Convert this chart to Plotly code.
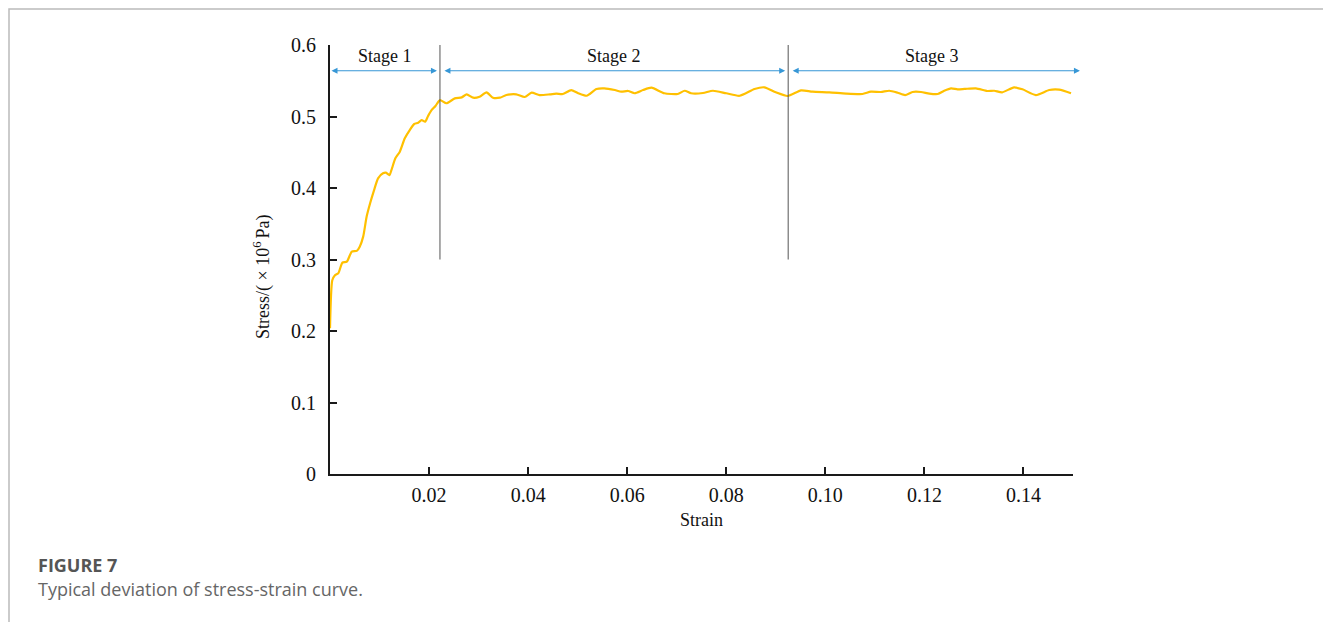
import plotly.graph_objects as go

# ---- data ----
strain = [0, 0.00046, 0.001, 0.0017, 0.0025, 0.0034, 0.0044, 0.0054, 0.006, 0.0067,
          0.0074, 0.0081, 0.0089, 0.0097, 0.0107, 0.0113, 0.012, 0.0124, 0.0132, 0.0141,
          0.0151, 0.0161, 0.017, 0.0178, 0.0185, 0.0192, 0.0198, 0.0205, 0.0213, 0.0222,
          0.0235, 0.0252, 0.0266, 0.0276, 0.0289, 0.0302, 0.0316, 0.0329, 0.0343, 0.0356,
          0.0376, 0.0393, 0.0407, 0.0423, 0.0444, 0.0457, 0.047, 0.0487, 0.0501, 0.0518,
          0.0538, 0.0554, 0.0575, 0.0588, 0.0602, 0.0615, 0.0632, 0.0649, 0.0675, 0.0702,
          0.0716, 0.0729, 0.0753, 0.0773, 0.08, 0.0827, 0.0857, 0.0877, 0.09, 0.0924,
          0.0951, 0.0974, 0.1008, 0.1042, 0.1075, 0.1092, 0.1112, 0.1129, 0.1146, 0.1161,
          0.1176, 0.1193, 0.121, 0.1227, 0.124, 0.1254, 0.1267, 0.1281, 0.1304, 0.1327,
          0.1341, 0.1357, 0.1381, 0.1398, 0.1425, 0.1452, 0.1472, 0.1496]
stress = [0.2038, 0.271, 0.278, 0.281, 0.2956, 0.297, 0.311, 0.312, 0.318, 0.332,
          0.360, 0.3786, 0.397, 0.4135, 0.4205, 0.4214, 0.418, 0.425, 0.4415, 0.4508,
          0.4695, 0.481, 0.4895, 0.4913, 0.495, 0.4927, 0.5007, 0.509, 0.5147, 0.523,
          0.5185, 0.5254, 0.5268, 0.531, 0.5263, 0.5277, 0.5338, 0.5263, 0.5263, 0.530,
          0.531, 0.5273, 0.5333, 0.530, 0.531, 0.532, 0.5315, 0.537, 0.5325, 0.529,
          0.5385, 0.5394, 0.537, 0.5347, 0.5357, 0.5325, 0.537, 0.5403, 0.5325, 0.5315,
          0.536, 0.5325, 0.5329, 0.536, 0.5325, 0.529, 0.5385, 0.5408, 0.5338, 0.5287,
          0.5366, 0.5347, 0.5338, 0.532, 0.5315, 0.5347, 0.5343, 0.536, 0.5333, 0.530,
          0.5343, 0.5343, 0.532, 0.5315, 0.536, 0.5394, 0.538, 0.5385, 0.5394, 0.5357,
          0.536, 0.5338, 0.5408, 0.538, 0.530, 0.537, 0.5375, 0.5325]

x_tickvals = [0.02, 0.04, 0.06, 0.08, 0.10, 0.12, 0.14]
x_ticktext = ["0.02", "0.04", "0.06", "0.08", "0.10", "0.12", "0.14"]
y_tickvals = [0, 0.1, 0.2, 0.3, 0.4, 0.5, 0.6]
y_ticktext = ["0", "0.1", "0.2", "0.3", "0.4", "0.5", "0.6"]

stage_labels = ["Stage 1", "Stage 2", "Stage 3"]
stage_bounds = [0.0, 0.0222, 0.0925, 0.1514]   # stage boundaries (strain)
divider_y = [0.3, 0.604]                         # extent of the divider lines
arrow_level = 0.564
label_level = 0.585

SERIF = "Liberation Serif, Times New Roman, serif"
SANS = "Open Sans, Noto Sans, sans-serif"
ARROW = "#3797d6"

# plot area on screen: x 330..1073, y 45..474 (page has an 8px body offset)
PL, PR, PT, PB = 330, 1073, 45, 474
OFF = 8


def px(xs):
    return (xs - PL) / (PR - PL)


def py(ys):
    return (PB - ys) / (PB - PT)


fig = go.Figure()
fig.add_trace(go.Scatter(x=strain, y=stress, mode="lines",
                         line=dict(color="#FFC000", width=2.2, shape="spline", smoothing=0.6),
                         showlegend=False, hoverinfo="skip"))

# divider lines between stages
for b in stage_bounds[1:3]:
    fig.add_shape(type="line", xref="x", yref="y", x0=b, x1=b,
                  y0=divider_y[0], y1=divider_y[1],
                  line=dict(color="#555555", width=1))

# double-headed arrows and stage labels
for i, lab in enumerate(stage_labels):
    a, b = stage_bounds[i], stage_bounds[i + 1]
    fig.add_annotation(x=b, y=arrow_level, ax=a, ay=arrow_level,
                       xref="x", yref="y", axref="x", ayref="y",
                       text="", showarrow=True, arrowhead=2, arrowside="end+start",
                       arrowsize=1, arrowwidth=1.2, arrowcolor=ARROW,
                       startstandoff=3 if i > 0 else 0, standoff=3 if i < 2 else 0)
    fig.add_annotation(x=(a + b) / 2 - (0.0005 if i == 2 else 0), y=label_level,
                       xref="x", yref="y", text=lab, showarrow=False,
                       xanchor="center", yanchor="middle",
                       font=dict(family=SERIF, size=18, color="#111111"))

# axis titles
fig.add_annotation(xref="paper", yref="paper", x=px(262), y=py(277),
                   xanchor="center", yanchor="middle",
                   text="Stress/( × 10<sup>6 </sup>Pa)", textangle=-90, showarrow=False,
                   font=dict(family=SERIF, size=18, color="#111111"))
fig.add_annotation(xref="paper", yref="paper", x=px(701), y=py(520),
                   xanchor="center", yanchor="middle",
                   text="Strain", showarrow=False,
                   font=dict(family=SERIF, size=18, color="#111111"))

# caption
fig.add_annotation(xref="paper", yref="paper", x=px(36), y=py(565),
                   xanchor="left", yanchor="middle", text="<b>FIGURE 7</b>", showarrow=False,
                   font=dict(family=SANS, size=18, color="#555555"))
fig.add_annotation(xref="paper", yref="paper", x=px(36), y=py(589),
                   xanchor="left", yanchor="middle",
                   text="Typical deviation of stress-strain curve.",
                   showarrow=False,
                   font=dict(family=SANS, size=18, color="#666666"))

# page frame (kept just inside the drawable figure area)
fig.add_shape(type="path", xref="paper", yref="paper",
              path="M %f %f L %f %f L %f %f L %f %f" % (
                  px(9), py(660), px(9), py(9), px(1327), py(9), px(1327), py(660)),
              line=dict(color="#bbbbbb", width=1.5))

fig.update_layout(
    width=1331, height=622,
    margin=dict(l=PL - OFF, r=1331 - (PR - OFF), t=PT - OFF, b=622 - (PB - OFF)),
    plot_bgcolor="white", paper_bgcolor="white",
    showlegend=False,
    xaxis=dict(range=[0, 0.15], tickvals=x_tickvals, ticktext=x_ticktext,
               showgrid=False, zeroline=False, showline=True, linecolor="#1a1a1a",
               linewidth=2, ticks="inside", ticklen=7, tickwidth=1.5, tickcolor="#1a1a1a",
               ticklabelstandoff=2,
               tickfont=dict(family=SERIF, size=20, color="#111111")),
    yaxis=dict(range=[0, 0.6], tickvals=y_tickvals, ticktext=y_ticktext,
               showgrid=False, zeroline=False, showline=True, linecolor="#1a1a1a",
               linewidth=2, ticks="inside", ticklen=7, tickwidth=1.5, tickcolor="#1a1a1a",
               ticklabelstandoff=8,
               tickfont=dict(family=SERIF, size=20, color="#111111")),
)

fig.write_html("out.html")
